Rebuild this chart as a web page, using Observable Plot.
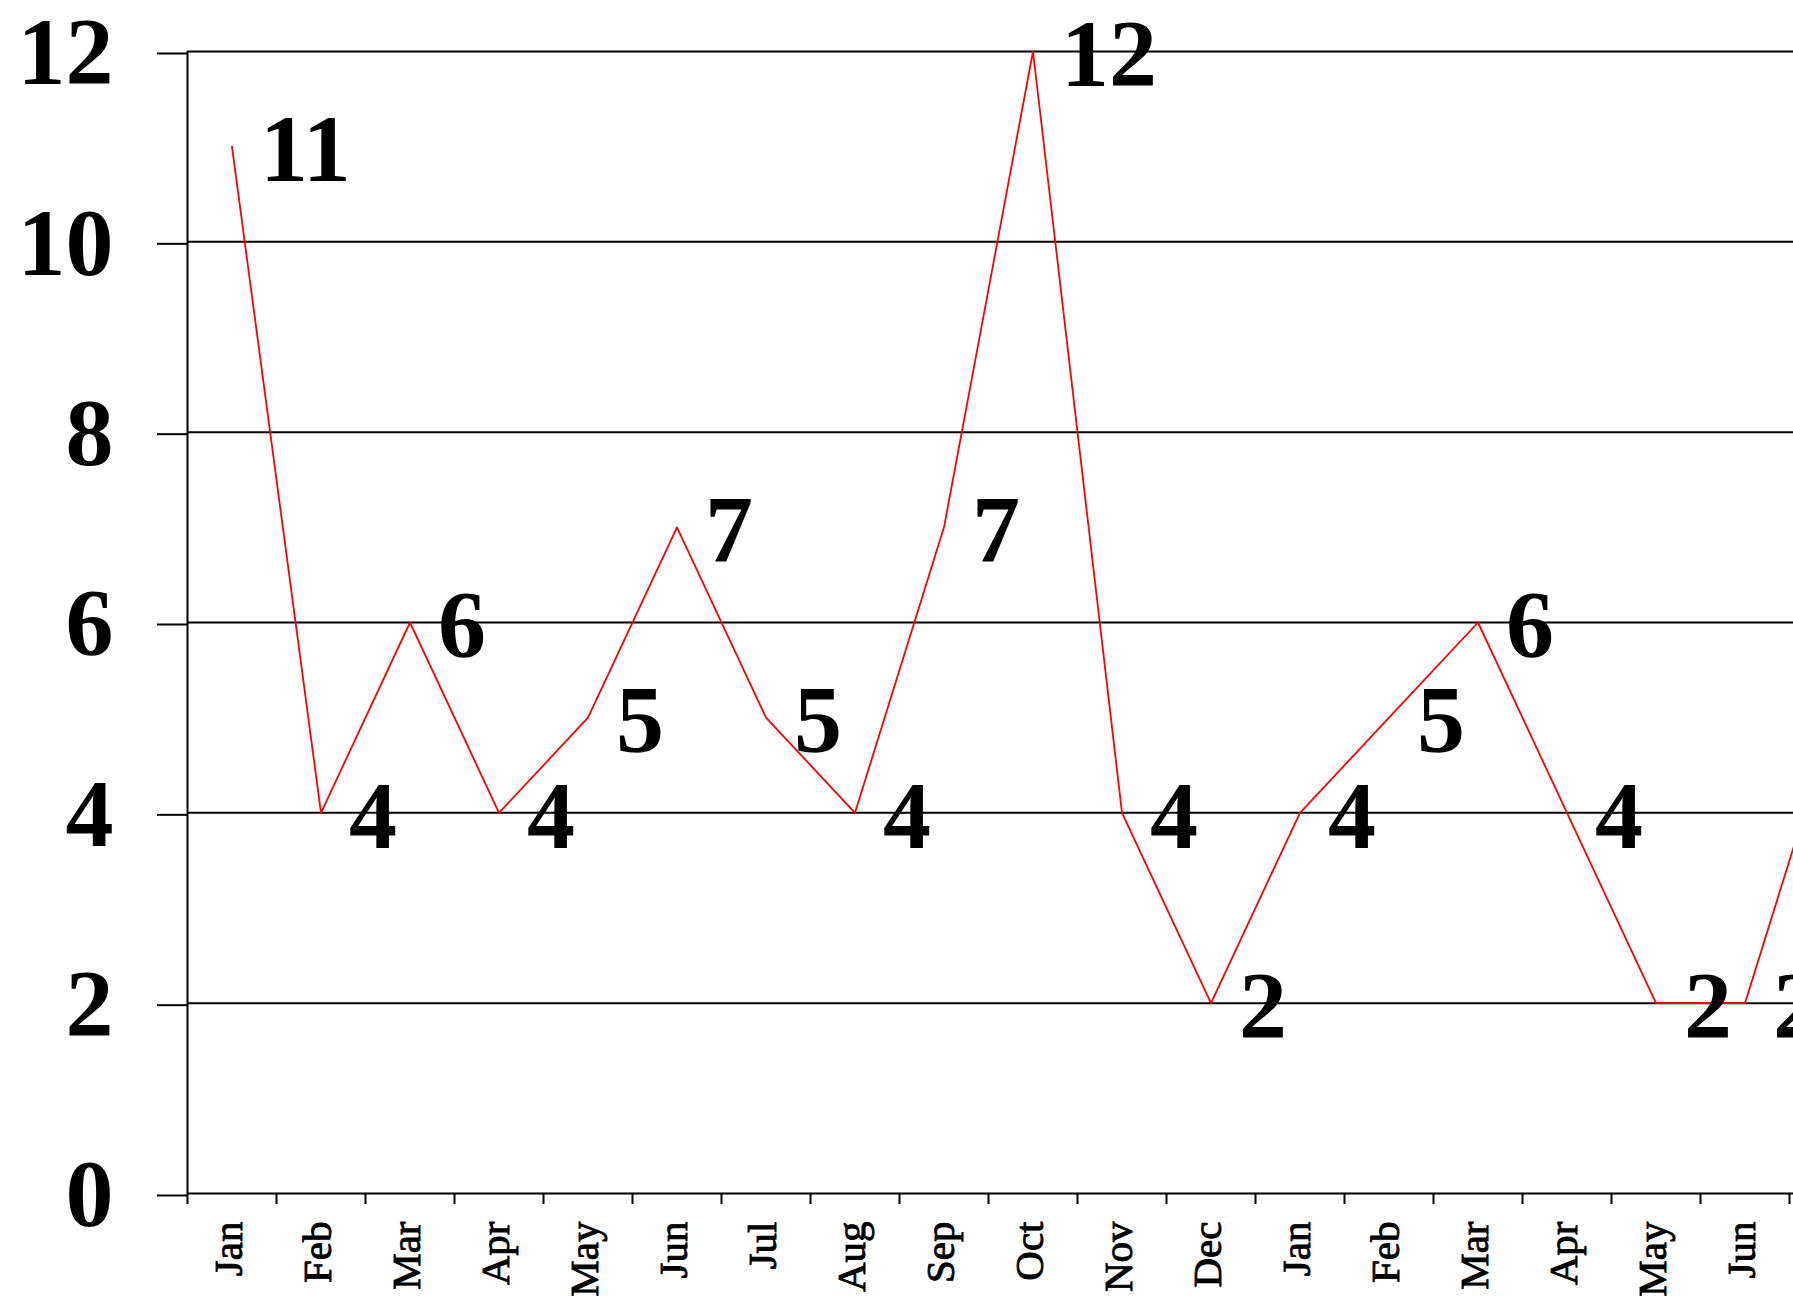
<!DOCTYPE html>
<html>
<head>
<meta charset="utf-8">
<script src="https://cdn.jsdelivr.net/npm/d3@7"></script>
<script src="https://cdn.jsdelivr.net/npm/@observablehq/plot@0.6"></script>
<style>
  html, body { margin: 0; padding: 0; background: #fff; }
  #wrap { width: 1793px; height: 1307px; overflow: hidden; }
</style>
</head>
<body>
<div id="wrap"></div>
<script>
const months = ["Jan","Feb","Mar","Apr","May","Jun","Jul","Aug","Sep","Oct","Nov","Dec",
                "Jan","Feb","Mar","Apr","May","Jun","Jul"];
const counts = [11, 4, 6, 4, 5, 7, 5, 4, 7, 12, 4, 2, 4, 5, 6, 4, 2, 2, 5];
const yTicks = [0, 2, 4, 6, 8, 10, 12];

const data = months.map((m, i) => ({i, month: m, value: counts[i]}));
const centers = data.map(d => d.i + 0.5);
const bounds = d3.range(0, months.length + 1);

const font = "'Liberation Serif', 'Times New Roman', serif";

const chart = Plot.plot({
  width: 1878,
  height: 1307,
  marginLeft: 187,
  marginRight: 0,
  marginTop: 51,
  marginBottom: 114,
  style: {maxWidth: "none", fontFamily: font, background: "#fff", color: "#000"},
  x: {type: "linear", domain: [0, months.length]},
  y: {domain: [0, 12]},
  marks: [
    Plot.gridY(yTicks, {stroke: "#000", strokeOpacity: 1, strokeWidth: 2}),
    Plot.axisY(yTicks, {
      tickSize: 30, tickPadding: 44, stroke: "#000", strokeWidth: 2,
      tickFormat: d => String(d),
      fontSize: 96, fontWeight: "bold", fontFamily: font, dy: 2,
      label: null
    }),
    Plot.ruleX([0], {stroke: "#000", strokeWidth: 2}),
    Plot.axisX(bounds, {
      tickSize: 11, stroke: "#000", strokeWidth: 2,
      tickFormat: () => "", label: null
    }),
    Plot.axisX(centers, {
      tickSize: 0, tickPadding: 28, tickRotate: -90,
      tickFormat: v => months[Math.floor(v)],
      fontSize: 41, fontWeight: "normal", fontFamily: font, label: null,
      textStroke: "#000", textStrokeWidth: 0.9, dx: -3
    }),
    Plot.line(data, {x: d => d.i + 0.5, y: "value", stroke: "#ff0000", strokeWidth: 1.8}),
    Plot.text(data, {
      x: d => d.i + 0.5, y: "value", text: d => String(d.value),
      textAnchor: "start", dx: 28, dy: 4,
      fontSize: 96, fontWeight: "bold", fontFamily: font, fill: "#000"
    })
  ]
});
document.getElementById("wrap").appendChild(chart);
</script>
</body>
</html>
